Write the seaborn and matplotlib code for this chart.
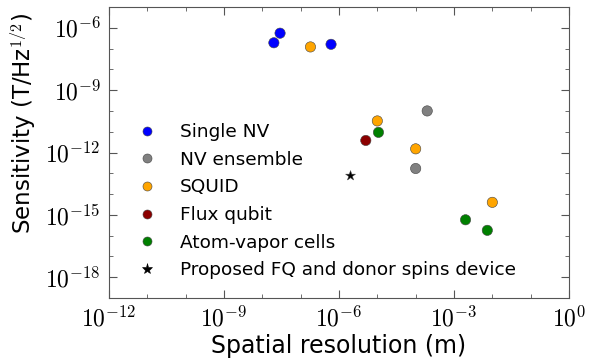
import numpy as np
import pandas as pd
import matplotlib
matplotlib.use("Agg")
import matplotlib.pyplot as plt
import matplotlib.ticker as mticker
import seaborn as sns

categories = ["Single NV", "NV ensemble", "SQUID", "Flux qubit", "Atom-vapor cells",
              "Proposed FQ and donor spins device"]
colors = ["blue", "gray", "orange", "darkred", "green", "black"]

single_nv_x = [2.0e-8, 2.9e-8, 6.2e-7]
single_nv_y = [1.9e-7, 5.5e-7, 1.6e-7]
nv_ens_x = [2.0e-4, 1.0e-4]
nv_ens_y = [1.0e-10, 1.7e-13]
squid_x = [1.8e-7, 1.0e-5, 1.0e-4, 1.0e-2]
squid_y = [1.2e-7, 3.3e-11, 1.5e-12, 4.0e-15]
flux_x = [5.0e-6]
flux_y = [3.8e-12]
vapor_x = [1.07e-5, 2.0e-3, 7.4e-3]
vapor_y = [9.3e-12, 5.8e-16, 1.8e-16]
proposed_x = [2.0e-6]
proposed_y = [7.6e-14]

xs = [single_nv_x, nv_ens_x, squid_x, flux_x, vapor_x, proposed_x]
ys = [single_nv_y, nv_ens_y, squid_y, flux_y, vapor_y, proposed_y]
rows = []
for c, xx, yy in zip(categories, xs, ys):
    for a, b in zip(xx, yy):
        rows.append({"x": a, "y": b, "cat": c})
df = pd.DataFrame(rows)

sns.set_style("ticks")
plt.rcParams.update({
    "mathtext.fontset": "cm",
    "xtick.direction": "in", "ytick.direction": "in",
    "xtick.top": True, "ytick.right": True,
    "axes.edgecolor": "#555555",
    "text.color": "black", "axes.labelcolor": "black",
})

fig = plt.figure(figsize=(5.89, 3.58), dpi=100)
ax = fig.add_axes([109/589, 1 - 298/358, 460/589, 291/358])

markers = {c: ("*" if c.startswith("Proposed") else "o") for c in categories}
palette = dict(zip(categories, colors))
sns.scatterplot(data=df, x="x", y="y", hue="cat", style="cat", hue_order=categories,
                style_order=categories, palette=palette, markers=markers, s=55,
                edgecolor="#444444", linewidth=0.4, ax=ax, legend=False, zorder=3)

ax.set_xscale("log")
ax.set_yscale("log")
ax.set_xlim(1e-12, 1e0)
ax.set_ylim(1e-19, 1e-5)
fmt = mticker.FuncFormatter(lambda v, p: r"$10^{%d}$" % int(round(np.log10(v))))
ax.xaxis.set_major_locator(mticker.FixedLocator([10.0**k for k in range(-12, 1, 3)]))
ax.xaxis.set_minor_locator(mticker.FixedLocator([10.0**k for k in range(-12, 1)]))
ax.yaxis.set_major_locator(mticker.FixedLocator([10.0**k for k in range(-18, -5, 3)]))
ax.yaxis.set_minor_locator(mticker.FixedLocator([10.0**k for k in range(-19, -4)]))
ax.xaxis.set_major_formatter(fmt)
ax.yaxis.set_major_formatter(fmt)
ax.xaxis.set_minor_formatter(mticker.NullFormatter())
ax.yaxis.set_minor_formatter(mticker.NullFormatter())
ax.tick_params(which="major", length=6, width=0.8, labelsize=17, colors="#555555", labelcolor="black", pad=6)
ax.tick_params(which="minor", length=3, width=0.6, colors="#555555")

ax.set_xlabel("Spatial resolution (m)", fontsize=17, labelpad=2)
ax.set_ylabel("Sensitivity (T/Hz$^{1/2}$)", fontsize=16.5)
ax.yaxis.set_label_coords(-0.155, 0.6)

handles = []
for c in categories:
    m = markers[c]
    h = plt.Line2D([], [], linestyle="none", marker=m, color=palette[c],
                   markersize=6.5 if m == "o" else 8, markeredgewidth=0.4,
                   markeredgecolor="#444444" if m == "o" else "black")
    handles.append(h)
ax.legend(handles, categories, loc="lower left", bbox_to_anchor=(0.015, 0.02), frameon=False,
          fontsize=13.3, handletextpad=0.75, labelspacing=0.52, borderaxespad=0.3,
          handlelength=2.0)

fig.savefig("out.png", dpi=100)
